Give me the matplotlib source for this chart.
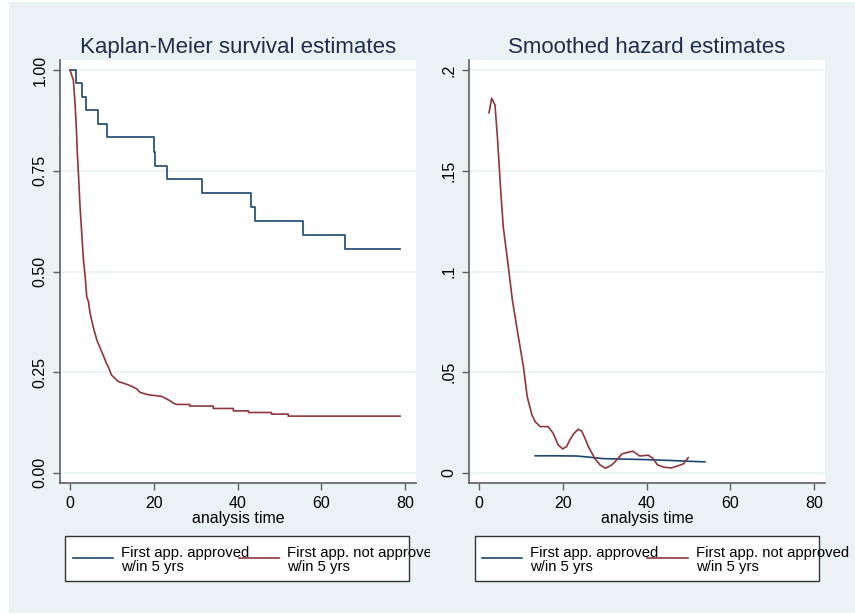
import matplotlib
matplotlib.use("Agg")
import matplotlib.pyplot as plt
from matplotlib.patches import Rectangle
from matplotlib.lines import Line2D
from matplotlib.transforms import Bbox

plt.rcParams['font.family'] = ['Liberation Sans', 'DejaVu Sans']

# Kaplan-Meier, first application approved within 5 years
km_appr_t = [0, 1.45, 2.8, 3.8, 6.6, 8.75, 20.0, 20.3, 23.2, 31.6, 43.1, 44.2, 55.7, 65.7, 78.8]
km_appr_s = [1.0, 0.967, 0.933, 0.900, 0.867, 0.833, 0.797, 0.763, 0.729, 0.694,
             0.659, 0.625, 0.590, 0.555, 0.555]

# Kaplan-Meier, first application not approved within 5 years
# (many events early on, so the curve is given point by point; the tail keeps its steps)
km_not_t = [0, 0.8, 1.2, 1.5, 1.75, 2.0, 2.4, 2.8, 3.2, 3.6, 4.0, 4.4, 4.8, 5.6, 6.4,
            7.2, 7.6, 8.4, 8.6, 9.2, 9.9, 10.6, 11.5, 13.0, 14.3, 15.1, 16.0, 16.7,
            18.7, 21.9, 22.8, 23.9, 24.7, 25.5, 28.6, 28.6, 34.2, 34.2, 39.0, 39.0,
            42.6, 42.6, 48.1, 48.1, 52.1, 52.1, 78.8]
km_not_s = [1.0, 0.975, 0.917, 0.859, 0.793, 0.745, 0.66, 0.595, 0.529, 0.49, 0.437,
            0.425, 0.396, 0.36, 0.330, 0.31, 0.300, 0.280, 0.274, 0.262, 0.243, 0.236,
            0.227, 0.222, 0.217, 0.213, 0.208, 0.200, 0.194, 0.190, 0.185, 0.179,
            0.173, 0.170, 0.170, 0.166, 0.166, 0.160, 0.160, 0.154, 0.154, 0.150,
            0.150, 0.146, 0.146, 0.141, 0.141]

# smoothed hazards
hz_appr_t = [13.4, 18.0, 23.3, 26.5, 29.6, 36.1, 40.0, 45.5, 50.0, 53.9]
hz_appr_h = [0.0085, 0.0085, 0.0084, 0.0078, 0.0071, 0.0068, 0.0066, 0.0062, 0.0058, 0.0055]

hz_not_t = [2.39, 3.02, 3.82, 4.45, 5.17, 5.8, 7.0, 7.96, 9.39, 10.6, 11.0, 11.5, 12.6,
            13.4, 14.6, 16.5, 17.7, 18.9, 19.97, 20.9, 21.7, 22.6, 23.7, 24.5, 25.3,
            26.1, 27.7, 28.9, 30.2, 31.7, 32.5, 34.1, 35.3, 36.7, 38.4, 40.4, 41.5,
            42.6, 44.2, 46.0, 47.6, 48.8, 49.95]
hz_not_h = [0.1788, 0.186, 0.1826, 0.165, 0.1404, 0.122, 0.1024, 0.0859, 0.0677, 0.0528,
            0.0462, 0.0379, 0.0290, 0.0255, 0.0230, 0.0230, 0.0197, 0.0139, 0.0119,
            0.0131, 0.0164, 0.0195, 0.0217, 0.0208, 0.0172, 0.0131, 0.0070, 0.0040,
            0.0023, 0.0040, 0.0056, 0.0094, 0.0101, 0.0108, 0.0084, 0.0088, 0.0073,
            0.0040, 0.0028, 0.0025, 0.0036, 0.0045, 0.0076]

km_ticks = [0, 0.25, 0.5, 0.75, 1.0]
km_labels = ['0.00', '0.25', '0.50', '0.75', '1.00']
hz_ticks = [0, 0.05, 0.1, 0.15, 0.2]
hz_labels = ['0', '.05', '.1', '.15', '.2']
x_ticks = [0, 20, 40, 60, 80]
legend_labels = ['First app. approved\nw/in 5 yrs', 'First app. not approved\nw/in 5 yrs']

BLUE = '#1A476F'
RED = '#90353B'
BG = '#EAF2F3'
AXCOL = '#5F5F5F'
TITLE = '#1F2D4F'

W, H = 855, 614
fig = plt.figure(figsize=(W / 100, H / 100), dpi=100, facecolor='white')


def fx(x):
    return x / W


def fy(y):
    return 1 - y / H


fig.patches.append(Rectangle((fx(9), fy(613)), fx(855) - fx(9), fy(2) - fy(613),
                             transform=fig.transFigure, facecolor=BG, edgecolor='none',
                             zorder=-5))


def setup_axes(left_px, yt, yl, title):
    ax = fig.add_axes([fx(left_px), fy(483), 356 / W, 423 / H])
    ax.set_facecolor('white')
    for s in ('top', 'right'):
        ax.spines[s].set_visible(False)
    for s in ('left', 'bottom'):
        ax.spines[s].set_color(AXCOL)
        ax.spines[s].set_linewidth(1.2)
    ax.set_xlim(-2.39, 82.6)
    ax.set_yticks(yt)
    ax.set_yticklabels(yl, rotation=90, va='center')
    ax.set_xticks(x_ticks)
    ax.tick_params(axis='both', length=5, width=1.0, color=AXCOL, labelsize=11.5, pad=4)
    ax.yaxis.grid(True, color=BG, linewidth=1.2)
    ax.set_axisbelow(True)
    ax.set_xlabel('analysis time', fontsize=11.5, labelpad=0)
    ax.set_title(title, fontsize=16, color=TITLE, pad=5)
    return ax


ax1 = setup_axes(60, km_ticks, km_labels, 'Kaplan-Meier survival estimates')
ax1.set_ylim(-0.025, 1.025)
ax1.plot(km_appr_t, km_appr_s, drawstyle='steps-post', color=BLUE, lw=1.2)
ax1.plot(km_not_t, km_not_s, color=RED, lw=1.2)

ax2 = setup_axes(469, hz_ticks, hz_labels, 'Smoothed hazard estimates')
ax2.set_ylim(-0.005, 0.205)
ax2.plot(hz_appr_t, hz_appr_h, color=BLUE, lw=1.2)
ax2.plot(hz_not_t, hz_not_h, color=RED, lw=1.2)


def draw_legend(box_x0, box_x1, entries, clip_x):
    fig.patches.append(Rectangle((fx(box_x0), fy(581)), fx(box_x1) - fx(box_x0),
                                 fy(536) - fy(581), transform=fig.transFigure,
                                 facecolor='white', edgecolor='#333333', lw=1.0, zorder=2))
    clip = Bbox.from_extents(0, 0, clip_x, H)
    for (lx0, lx1, tx), col, lab in zip(entries, [BLUE, RED], legend_labels):
        fig.lines.append(Line2D([fx(lx0), fx(lx1)], [fy(558), fy(558)],
                                transform=fig.transFigure, color=col, lw=1.2, zorder=3))
        t = fig.text(fx(tx), fy(560), lab, fontsize=10.7, ha='left', va='center',
                     linespacing=1.05, zorder=4)
        t.set_clip_box(clip)
        t.set_clip_on(True)


draw_legend(65, 409, [(73, 113, 121), (239, 279, 287)], 430)
draw_legend(475, 819, [(482, 522, 530), (647, 688, 696)], W)

fig.savefig('out.png', dpi=100, facecolor='white')
